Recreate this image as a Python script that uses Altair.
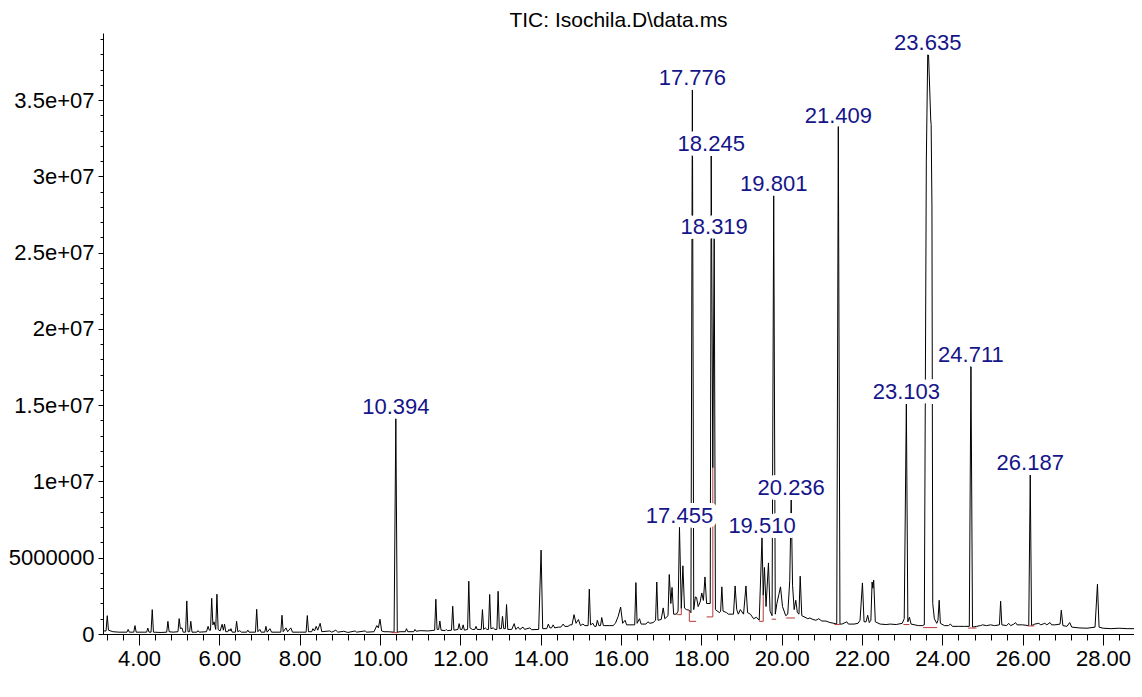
import altair as alt
import pandas as pd

TITLE = "TIC: Isochila.D\\data.ms"
FONT = "Liberation Sans"
LABEL_COLOR = "#15158a"
RED = "#b83a3a"

# Trace: (retention time [min], abundance [millions])
trace_early = [
    (3.10, 0.20), (3.18, 0.20), (3.21, 1.20), (3.24, 0.25), (3.35, 0.15), (3.50, 0.12),
    (3.70, 0.12), (3.73, 0.30), (3.76, 0.12), (3.87, 0.12), (3.90, 0.55), (3.93, 0.12),
    (4.05, 0.12), (4.19, 0.12), (4.22, 0.39), (4.25, 0.12), (4.30, 0.12), (4.33, 1.60),
    (4.36, 0.12), (4.55, 0.10), (4.69, 0.12), (4.72, 0.83), (4.75, 0.15), (4.85, 0.12),
    (4.97, 0.15), (5.00, 1.01), (5.03, 0.35), (5.07, 0.40), (5.10, 0.12), (5.16, 0.12),
    (5.19, 2.17), (5.22, 0.15), (5.26, 0.15), (5.29, 0.83), (5.32, 0.12), (5.44, 0.12),
    (5.47, 0.22), (5.50, 0.12), (5.68, 0.15), (5.72, 0.50), (5.75, 0.25), (5.78, 0.25),
    (5.81, 2.34), (5.84, 0.60), (5.87, 0.80), (5.91, 0.30), (5.94, 2.61), (5.97, 0.30),
    (6.02, 0.20), (6.07, 0.64), (6.10, 0.25), (6.13, 0.64), (6.16, 0.15), (6.21, 0.15),
    (6.24, 0.30), (6.27, 0.20), (6.29, 0.35), (6.32, 0.12), (6.40, 0.12), (6.43, 0.83),
    (6.46, 0.15), (6.51, 0.22), (6.55, 0.12), (6.68, 0.12), (6.71, 0.25), (6.74, 0.12),
    (6.90, 0.12), (6.93, 1.62), (6.96, 0.15), (7.01, 0.30), (7.04, 0.12), (7.13, 0.12),
    (7.16, 0.50), (7.19, 0.12), (7.26, 0.35), (7.30, 0.12), (7.53, 0.12), (7.56, 1.23),
    (7.59, 0.15), (7.66, 0.40), (7.70, 0.15), (7.78, 0.40), (7.82, 0.12), (8.00, 0.12),
    (8.16, 0.12), (8.19, 1.21), (8.22, 0.15), (8.30, 0.15), (8.33, 0.35), (8.37, 0.20),
    (8.41, 0.50), (8.45, 0.25), (8.51, 0.70), (8.55, 0.15), (8.75, 0.20), (8.80, 0.12),
    (8.90, 0.25), (8.95, 0.12), (9.10, 0.18), (9.20, 0.10), (9.38, 0.20), (9.42, 0.12),
    (9.63, 0.20), (9.67, 0.12), (9.85, 0.15), (9.92, 0.55), (9.96, 0.40), (10.00, 0.97),
    (10.04, 0.20), (10.10, 0.15), (10.20, 0.15), (10.35, 0.12), (10.394, 14.16),
    (10.43, 0.12), (10.50, 0.15),
]
trace_mid = [
    (10.63, 0.15), (10.66, 0.35), (10.69, 0.15), (10.84, 0.15), (10.87, 0.30), (10.90, 0.18),
    (11.00, 0.22), (11.20, 0.20), (11.36, 0.25), (11.39, 2.28), (11.42, 0.30), (11.46, 0.30),
    (11.49, 0.85), (11.52, 0.25), (11.62, 0.22), (11.65, 0.30), (11.68, 0.22), (11.78, 0.25),
    (11.81, 1.82), (11.84, 0.25), (11.94, 0.30), (11.97, 0.68), (12.00, 0.30), (12.04, 0.30),
    (12.07, 0.60), (12.10, 0.25), (12.18, 0.30), (12.21, 3.46), (12.24, 0.40), (12.30, 0.30),
    (12.36, 0.30), (12.39, 0.50), (12.42, 0.30), (12.52, 0.30), (12.55, 1.60), (12.58, 0.30),
    (12.62, 0.40), (12.66, 0.30), (12.70, 0.30), (12.73, 2.59), (12.76, 0.35), (12.82, 0.40),
    (12.86, 0.30), (12.91, 0.30), (12.94, 2.80), (12.97, 0.35), (13.02, 0.35), (13.05, 1.16),
    (13.08, 0.35), (13.12, 0.35), (13.15, 1.93), (13.18, 0.30), (13.28, 0.30), (13.34, 0.68),
    (13.38, 0.30), (13.44, 0.45), (13.48, 0.30), (13.56, 0.45), (13.60, 0.30), (13.73, 0.40),
    (13.77, 0.28), (13.95, 0.30), (14.01, 5.50), (14.05, 0.35), (14.15, 0.35), (14.19, 0.65),
    (14.23, 0.40), (14.27, 0.40), (14.31, 0.60), (14.35, 0.40), (14.44, 0.45), (14.50, 0.45),
    (14.56, 0.65), (14.60, 0.50), (14.68, 0.50), (14.73, 0.60), (14.78, 0.60), (14.83, 1.27),
    (14.88, 0.70), (14.94, 0.95), (14.99, 0.55), (15.05, 0.65), (15.10, 0.55), (15.18, 0.55),
    (15.21, 2.94), (15.24, 0.60), (15.30, 0.70), (15.34, 0.50), (15.38, 0.50), (15.41, 0.90),
    (15.45, 0.55), (15.49, 0.55), (15.52, 1.08), (15.56, 0.55), (15.72, 0.55), (15.80, 0.55),
    (15.86, 0.70), (15.93, 1.16), (15.99, 1.77), (16.04, 0.70), (16.10, 0.90), (16.14, 0.60),
    (16.34, 0.60), (16.37, 3.37), (16.40, 0.70), (16.46, 1.00), (16.50, 0.65), (16.62, 0.65),
    (16.67, 0.80), (16.72, 0.70), (16.80, 0.75), (16.86, 0.90), (16.89, 3.41), (16.92, 0.90),
    (17.00, 0.95), (17.05, 1.71), (17.09, 1.00), (17.17, 1.20), (17.20, 3.90), (17.24, 2.00),
    (17.27, 3.05), (17.31, 1.30), (17.38, 1.30), (17.42, 1.50), (17.455, 6.99), (17.50, 1.67),
    (17.54, 4.47), (17.58, 1.70), (17.63, 1.60),
]
trace_main = [
    (17.70, 1.56), (17.74, 1.40), (17.776, 35.70), (17.81, 1.60), (17.85, 2.43), (17.88, 2.40),
    (17.92, 1.80), (17.97, 2.10), (18.01, 2.69), (18.05, 2.20), (18.09, 3.74), (18.13, 2.00),
    (18.22, 2.00), (18.245, 31.37), (18.285, 10.90), (18.319, 25.98), (18.35, 1.60),
    (18.45, 1.40), (18.48, 1.50), (18.51, 3.09), (18.54, 1.50), (18.63, 1.40), (18.67, 1.30),
    (18.80, 1.30), (18.84, 3.15), (18.88, 1.60), (18.92, 1.30), (18.97, 1.60), (19.05, 1.30),
    (19.11, 3.15), (19.15, 1.40), (19.22, 1.30), (19.30, 1.00), (19.37, 1.10), (19.44, 0.90),
    (19.51, 6.37), (19.54, 2.54), (19.57, 4.36), (19.61, 1.80), (19.67, 4.66), (19.71, 1.50),
    (19.76, 1.20), (19.801, 28.80), (19.84, 1.30), (19.88, 2.00), (19.93, 2.60), (19.97, 3.09),
    (20.02, 1.80), (20.10, 1.20), (20.15, 1.30), (20.20, 3.50), (20.236, 8.85), (20.27, 3.20),
    (20.31, 1.60), (20.35, 2.21), (20.39, 1.40), (20.43, 1.30), (20.46, 3.79), (20.50, 1.20),
    (20.58, 1.10), (20.65, 1.00), (20.70, 1.05), (20.78, 0.95), (20.85, 0.90), (20.92, 1.00),
    (21.00, 0.85), (21.10, 0.85), (21.20, 0.75), (21.30, 0.70), (21.37, 0.65), (21.409, 33.27),
    (21.45, 0.65),
]
trace_late = [
    (21.50, 0.65), (21.62, 0.80), (21.66, 0.65), (21.80, 0.65), (21.90, 0.70), (21.95, 0.90),
    (22.01, 3.35), (22.05, 0.80), (22.10, 0.80), (22.14, 1.23), (22.18, 0.75), (22.22, 0.90),
    (22.25, 3.41), (22.27, 3.00), (22.29, 3.53), (22.33, 0.80), (22.45, 0.65), (22.60, 0.62),
    (22.70, 0.65), (22.85, 0.62), (23.00, 0.70), (23.05, 1.00), (23.103, 15.15), (23.14, 0.80),
    (23.18, 1.10), (23.22, 0.65), (23.40, 0.55), (23.50, 0.55), (23.55, 0.60), (23.60, 31.00),
    (23.635, 38.00), (23.655, 38.00), (23.71, 33.70), (23.72, 33.40), (23.74, 28.00),
    (23.76, 2.00), (23.80, 1.00), (23.86, 0.70), (23.89, 0.90), (23.92, 2.21), (23.95, 0.70),
    (24.05, 0.55), (24.15, 0.55), (24.20, 0.65), (24.25, 0.50), (24.40, 0.50), (24.55, 0.50),
    (24.67, 0.50), (24.711, 17.58), (24.75, 0.45), (24.85, 0.50), (24.95, 0.55), (25.00, 0.60),
    (25.10, 0.55), (25.20, 0.60), (25.30, 0.55), (25.42, 0.60), (25.45, 2.15), (25.48, 0.60),
    (25.60, 0.55), (25.65, 0.70), (25.70, 0.55), (25.78, 0.65), (25.82, 0.75), (25.86, 0.60),
    (26.00, 0.60), (26.15, 0.55), (26.187, 10.49), (26.22, 0.55), (26.30, 0.65), (26.40, 0.70),
    (26.45, 0.60), (26.55, 0.70), (26.60, 0.60), (26.68, 0.75), (26.72, 0.60), (26.80, 0.60),
    (26.93, 0.65), (26.96, 1.56), (27.00, 0.55), (27.10, 0.50), (27.17, 0.75), (27.22, 0.45),
    (27.40, 0.40), (27.60, 0.38), (27.80, 0.45), (27.86, 3.26), (27.90, 0.45), (28.00, 0.38),
    (28.20, 0.35), (28.40, 0.38), (28.60, 0.35), (28.80, 0.35), (28.85, 0.45), (28.88, 0.79),
    (28.91, 0.40), (28.95, 0.35),
]

# Labelled peaks
peak_labels = ["10.394", "17.455", "17.776", "18.245", "18.319", "19.510", "19.801",
               "20.236", "21.409", "23.103", "23.635", "24.711", "26.187"]
peak_heights = [14.16, 6.99, 35.70, 31.37, 25.98, 6.37, 28.80, 8.85, 33.27, 15.15,
                38.00, 17.58, 10.49]

# Integration baselines / drop lines (t1, v1, t2, v2), millions
integration = [
    (10.29, 0.09, 10.46, 0.09),
    (17.40, 1.27, 17.50, 1.27), (17.50, 1.27, 17.50, 1.67),
    (17.70, 0.83, 17.87, 0.83), (17.70, 0.83, 17.70, 1.56),
    (18.13, 1.12, 18.285, 1.12), (18.285, 1.12, 18.285, 10.90),
    (19.44, 0.83, 19.54, 0.83), (19.54, 0.83, 19.54, 2.54),
    (19.75, 0.97, 19.86, 0.97),
    (20.11, 1.05, 20.33, 1.05),
    (21.31, 0.62, 21.45, 0.62),
    (23.03, 0.62, 23.18, 0.62),
    (23.52, 0.42, 23.87, 0.42),
    (24.64, 0.39, 24.85, 0.39),
    (26.12, 0.53, 26.29, 0.53),
]

x_major = [4, 6, 8, 10, 12, 14, 16, 18, 20, 22, 24, 26, 28]
x_minor = [round(3.2 + 0.4 * i, 1) for i in range(64)]
y_major = [0, 5e6, 1e7, 1.5e7, 2e7, 2.5e7, 3e7, 3.5e7]
y_minor = [i * 1e6 for i in range(40)]

MILLION = 1e6
trace = trace_early + trace_mid + trace_main + trace_late
trace_df = pd.DataFrame(
    [{"i": k, "t": t, "v": v * MILLION} for k, (t, v) in enumerate(trace)]
)
labels_df = pd.DataFrame({
    "t": [float(s) for s in peak_labels],
    "v": [h * MILLION for h in peak_heights],
    "label": peak_labels,
})
integ_df = pd.DataFrame(
    [{"t1": a, "v1": b * MILLION, "t2": c, "v2": d * MILLION} for a, b, c, d in integration]
)

xs = alt.Scale(domain=[3.104, 28.77], nice=False, zero=False)
ys = alt.Scale(domain=[0, 3.94e7], nice=False, zero=False)

common = dict(domainColor="black", tickColor="black", labelColor="black",
              labelFont=FONT, labelFontSize=22, grid=False, title=None,
              domainWidth=1, tickWidth=1)
x_axis = alt.Axis(values=x_major, format=".2f", tickSize=11, labelPadding=3,
                  orient="bottom", labelFlush=False, labelOverlap=False, **common)
y_axis = alt.Axis(values=y_major, tickSize=5, labelPadding=4, orient="left",
                  labelOverlap=False,
                  labelExpr="datum.value == 0 ? '0' : (datum.value == 5000000 ? '5000000' : (datum.value / 10000000) + 'e+07')",
                  **common)
x_minor_axis = alt.Axis(values=x_minor, tickSize=6, labels=False, domain=False,
                        orient="bottom", grid=False, title=None, tickColor="black", tickWidth=1)
y_minor_axis = alt.Axis(values=y_minor, tickSize=3, labels=False, domain=False,
                        orient="left", grid=False, title=None, tickColor="black", tickWidth=1)

minor = alt.Chart(labels_df).mark_point(opacity=0).encode(
    x=alt.X("t:Q", scale=xs, axis=x_minor_axis),
    y=alt.Y("v:Q", scale=ys, axis=y_minor_axis),
)
line = alt.Chart(trace_df).mark_line(color="black", strokeWidth=1, clip=True).encode(
    x=alt.X("t:Q", scale=xs, axis=x_axis),
    y=alt.Y("v:Q", scale=ys, axis=y_axis),
    order="i:Q",
)
rules = alt.Chart(integ_df).mark_rule(color=RED, strokeWidth=1).encode(
    x=alt.X("t1:Q", scale=xs, axis=None), x2="t2:Q",
    y=alt.Y("v1:Q", scale=ys, axis=None), y2="v2:Q",
)
halo = alt.Chart(labels_df).mark_text(
    font=FONT, fontSize=22, dy=-4, baseline="alphabetic", align="center",
    fill="white", stroke="white", strokeWidth=10, strokeJoin="round",
).encode(
    x=alt.X("t:Q", scale=xs, axis=None),
    y=alt.Y("v:Q", scale=ys, axis=None),
    text="label:N",
)
text = alt.Chart(labels_df).mark_text(
    font=FONT, fontSize=22, dy=-4, baseline="alphabetic", align="center",
    color=LABEL_COLOR,
).encode(
    x=alt.X("t:Q", scale=xs, axis=None),
    y=alt.Y("v:Q", scale=ys, axis=None),
    text="label:N",
)

chart = alt.layer(minor, line, rules, halo, text).resolve_axis(
    x="independent", y="independent"
).properties(
    width=1031, height=601,
    title=alt.TitleParams(text=TITLE, font=FONT, fontSize=21, fontWeight="normal",
                          color="black", offset=1, anchor="middle"),
    autosize=alt.AutoSizeParams(type="none"),
    padding={"left": 95, "top": 25, "right": 0, "bottom": 40},
).configure_view(stroke=None)

chart.save("out.html", embed_options={"renderer": "svg", "actions": False})
